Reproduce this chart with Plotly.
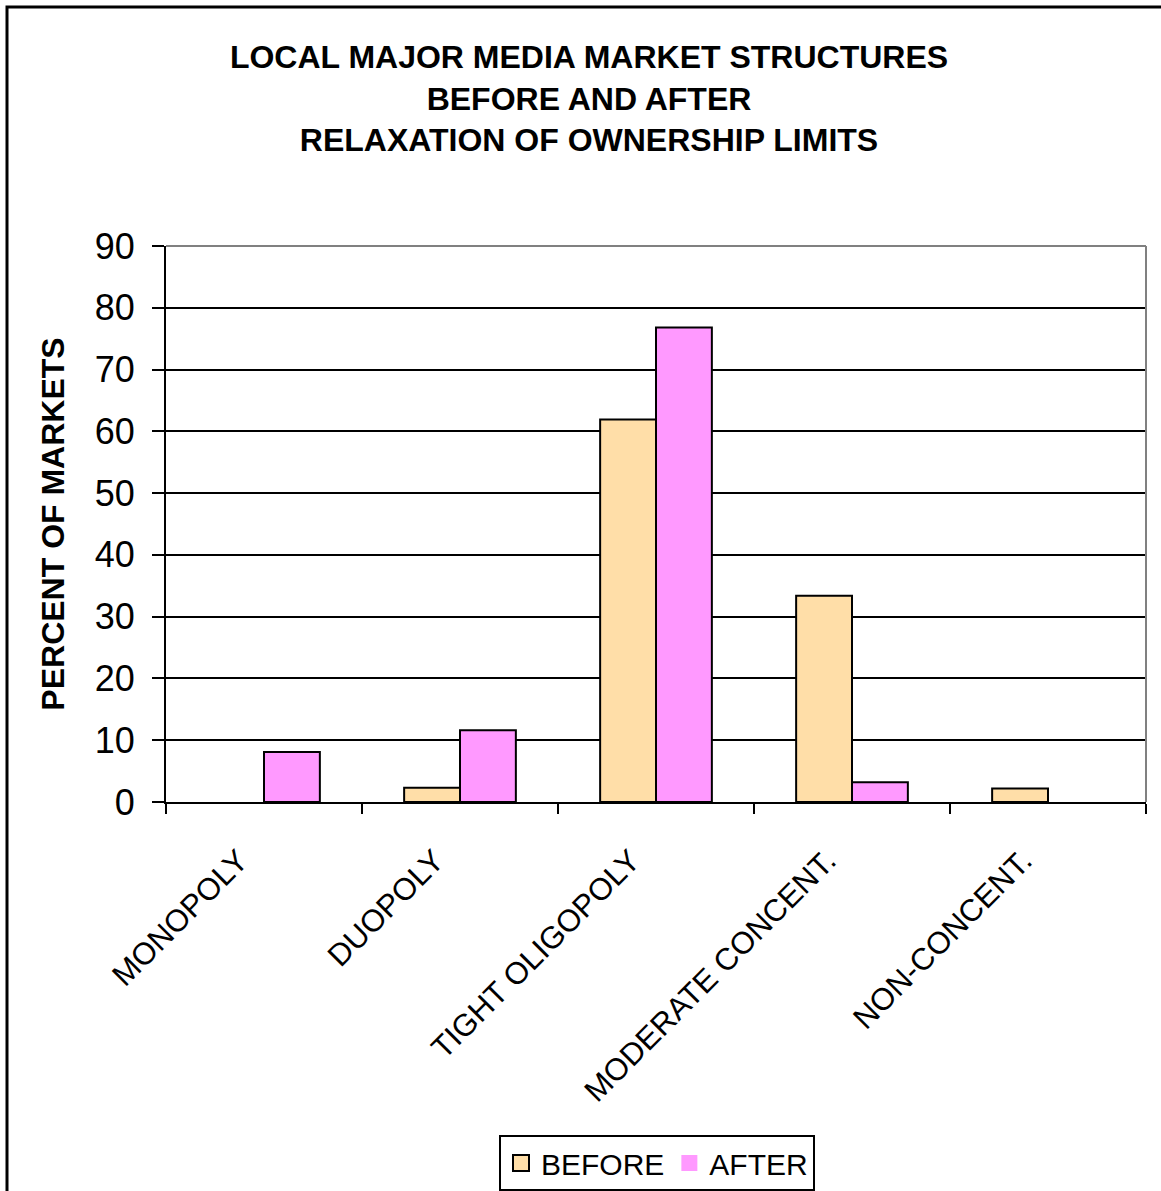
import plotly.graph_objects as go

# Market structure categories and share of markets (percent)
categories = ["MONOPOLY", "DUOPOLY", "TIGHT OLIGOPOLY", "MODERATE CONCENT.", "NON-CONCENT."]
before = [0, 2.3, 61.9, 33.4, 2.2]
after = [8.1, 11.6, 76.8, 3.2, 0]
y_ticks = list(range(0, 91, 10))

BEFORE_COLOR = "#FFDEA8"
AFTER_COLOR = "#FF99FF"
FONT = "Liberation Sans, Arial, sans-serif"

W, H = 1161, 1191
L, R, T, B = 166, 15, 246, 389
PW, PH = W - L - R, H - T - B


def outline_widths(values):
    # empty categories get no outline so no sliver is drawn at zero
    return [0 if v == 0 else 2 for v in values]


fig = go.Figure()

fig.add_trace(go.Bar(
    x=categories, y=before, name="BEFORE",
    marker=dict(color=BEFORE_COLOR, line=dict(color="black", width=outline_widths(before))),
    showlegend=False,
))
fig.add_trace(go.Bar(
    x=categories, y=after, name="AFTER",
    marker=dict(color=AFTER_COLOR, line=dict(color="black", width=outline_widths(after))),
    showlegend=False,
))

# legend entries (square swatches)
fig.add_trace(go.Scatter(
    x=[None], y=[None], mode="markers", name="BEFORE",
    marker=dict(symbol="square", size=20, color=BEFORE_COLOR,
                line=dict(color="black", width=2)),
))
fig.add_trace(go.Scatter(
    x=[None], y=[None], mode="markers", name="AFTER",
    marker=dict(symbol="square", size=20, color=AFTER_COLOR,
                line=dict(width=0)),
))

fig.update_layout(
    width=W, height=H,
    margin=dict(l=L, r=R, t=T, b=B, autoexpand=False),
    paper_bgcolor="white", plot_bgcolor="white",
    font=dict(family=FONT, color="black"),
    barmode="group", bargap=0.43, bargroupgap=0,
    title=dict(
        text="LOCAL MAJOR MEDIA MARKET STRUCTURES<br>BEFORE AND AFTER<br>RELAXATION OF OWNERSHIP LIMITS",
        font=dict(family=FONT, size=32, color="black", weight="bold"),
        x=589 / W, xanchor="center", xref="container",
        y=1 - 68 / H, yanchor="top", yref="container",
    ),
    xaxis=dict(
        type="category", tickson="boundaries",
        ticks="outside", ticklen=10, tickwidth=2, tickcolor="black",
        showline=True, linecolor="black", linewidth=2,
        showgrid=False, tickangle=-45,
        tickfont=dict(family=FONT, size=31, color="black"),
        ticklabelstandoff=26, ticklabelshift=-25,
        automargin=False,
    ),
    yaxis=dict(
        range=[0, 90], tickvals=y_ticks,
        ticks="outside", ticklen=12, tickwidth=2, tickcolor="black",
        showline=True, linecolor="black", linewidth=2,
        showgrid=True, gridcolor="black", gridwidth=1.6,
        zeroline=False,
        tickfont=dict(family=FONT, size=36, color="black"),
        ticklabelstandoff=10,
        automargin=False,
        title=dict(text="<b>PERCENT OF MARKETS</b>",
                   font=dict(family=FONT, size=32, color="black"),
                   standoff=21),
    ),
    legend=dict(
        orientation="h", x=(657 - L) / PW, xanchor="center",
        y=1 - (1163 - T) / PH, yanchor="middle",
        bordercolor="black", borderwidth=2, bgcolor="white",
        font=dict(family=FONT, size=30, color="black"),
        itemwidth=30, tracegroupgap=0,
    ),
    shapes=[
        # gray plot frame on top and right
        dict(type="line", xref="paper", yref="paper", x0=0, x1=1, y0=1, y1=1,
             line=dict(color="#808080", width=2), layer="above"),
        dict(type="line", xref="paper", yref="paper", x0=1, x1=1, y0=0, y1=1,
             line=dict(color="#808080", width=2), layer="above"),
        # outer chart border
        dict(type="rect", xref="paper", yref="paper",
             x0=(7 - L) / PW, x1=2, y0=-2, y1=1 + (T - 7) / PH,
             line=dict(color="black", width=3), layer="below"),
    ],
)

fig.write_html("out.html")
